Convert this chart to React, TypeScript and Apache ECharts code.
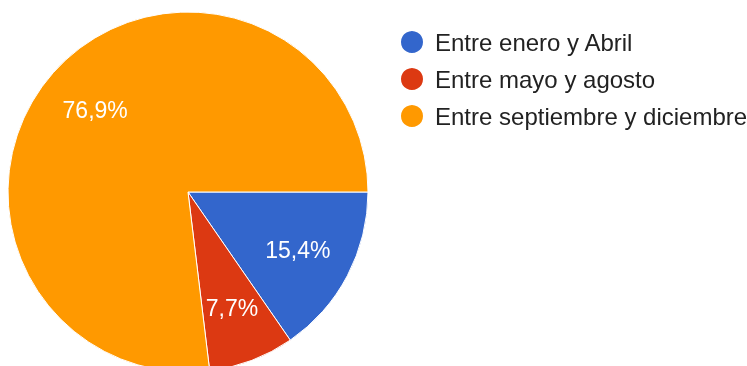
import React, { useEffect, useRef } from "react";
import * as echarts from "echarts";

const categories = ["Entre enero y Abril", "Entre mayo y agosto", "Entre septiembre y diciembre"];
const values = [2, 1, 10];
const colors = ["#3366cc", "#dc3912", "#ff9900"];

const CX = 188;
const CY = 192;
const R = 180;
const LABEL_R = 124;

export default function App() {
  const ref = useRef<HTMLDivElement>(null);
  useEffect(() => {
    if (!ref.current) return;
    const chart = echarts.init(ref.current, null, { renderer: "svg" });
    const total = values.reduce((a, b) => a + b, 0);
    const mids: number[] = [];
    let acc = 0;
    values.forEach((v) => {
      mids.push(((acc + v / 2) / total) * Math.PI * 2);
      acc += v;
    });
    chart.setOption({
      animation: false,
      color: colors,
      legend: {
        orient: "vertical",
        left: 394,
        top: 24,
        icon: "circle",
        itemWidth: 24,
        itemHeight: 24,
        itemGap: 11,
        selectedMode: false,
        textStyle: {
          fontSize: 24,
          color: "#222222",
          fontFamily: "'Liberation Sans', Arial, sans-serif",
          padding: [0, 0, 0, 6],
        },
        data: categories,
      },
      series: [
        {
          type: "pie",
          center: [CX, CY],
          radius: [0, R],
          startAngle: 0,
          clockwise: true,
          avoidLabelOverlap: false,
          itemStyle: { borderColor: "#ffffff", borderWidth: 1 },
          label: {
            show: true,
            position: "inside",
            color: "#ffffff",
            fontSize: 23,
            fontFamily: "'Liberation Sans', Arial, sans-serif",
            formatter: (p: any) => (p.value / total * 100).toFixed(1).replace(".", ",") + "%",
          },
          labelLine: { show: false },
          labelLayout: (p: any) => {
            const a = mids[p.dataIndex];
            return { x: CX + LABEL_R * Math.cos(a), y: CY + LABEL_R * Math.sin(a), align: "center", verticalAlign: "middle" };
          },
          emphasis: { disabled: true },
          data: categories.map((c, i) => ({ name: c, value: values[i] })),
        },
      ],
    });
    return () => chart.dispose();
  }, []);
  return <div ref={ref} style={{ position: "fixed", left: 0, top: 0, width: 747, height: 366 }} />;
}
